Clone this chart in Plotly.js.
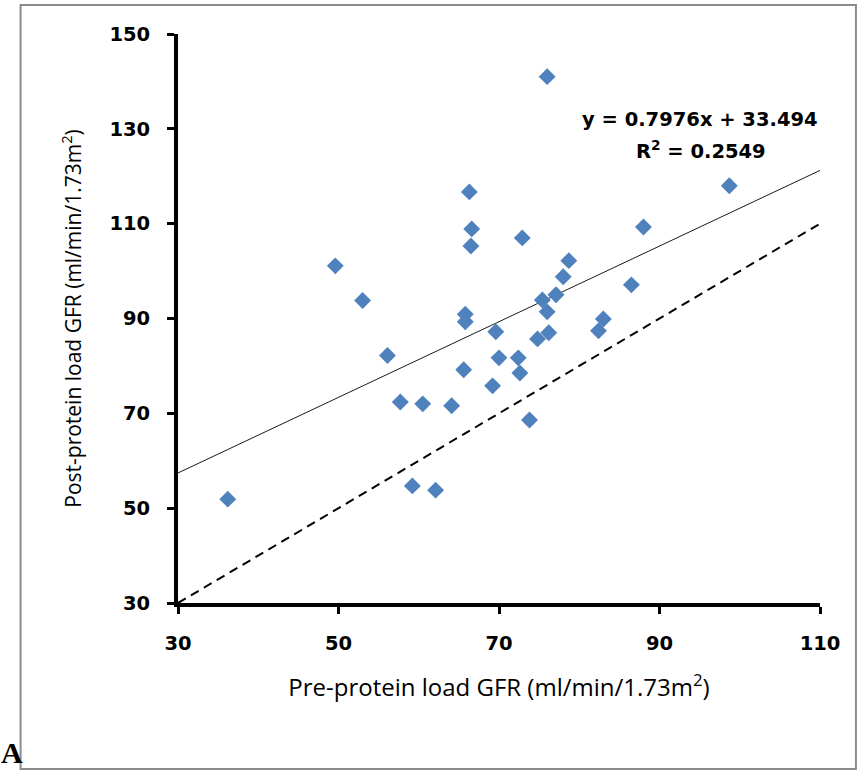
<!DOCTYPE html>
<html>
<head>
<meta charset="utf-8">
<script src="https://cdn.plot.ly/plotly-3.0.1.min.js"></script>
<style>
  html, body { margin: 0; padding: 0; background: #ffffff; }
  #chart { width: 859px; height: 771px; }
</style>
</head>
<body>
<div id="chart"></div>
<script>
// Pre-protein load GFR (x) and post-protein load GFR (y), ml/min/1.73m2
const preGFR = [36.2, 49.6, 53.0, 56.1, 57.7, 59.2, 60.5, 62.1, 64.1, 65.6,
                65.8, 65.8, 66.3, 66.6, 66.5, 69.2, 69.6, 70.0, 72.4, 72.6,
                72.9, 73.8, 74.8, 75.4, 76.0, 76.0, 76.2, 77.1, 78.0, 78.7,
                82.4, 83.0, 86.5, 88.0, 98.7];
const postGFR = [51.9, 101.1, 93.8, 82.2, 72.4, 54.7, 72.0, 53.8, 71.6, 79.2,
                 90.9, 89.3, 116.7, 108.9, 105.3, 75.8, 87.2, 81.7, 81.7, 78.5,
                 107.0, 68.6, 85.7, 93.9, 141.0, 91.4, 87.0, 95.0, 98.8, 102.2,
                 87.4, 89.9, 97.1, 109.3, 118.0];

// Linear trend reported on the chart
const trendSlope = 0.7976;
const trendIntercept = 33.494;
const trendR2 = 0.2549;

// Axis ranges and ticks
const xRange = [30, 110];
const yRange = [30, 150];
const xTicks = [30, 50, 70, 90, 110];
const yTicks = [30, 50, 70, 90, 110, 130, 150];

// Line of identity (y = x)
const identityX = [30, 110];
const identityY = [30, 110];

const trendX = xRange.slice();
const trendY = trendX.map(v => trendSlope * v + trendIntercept);

const traces = [
  {
    x: identityX, y: identityY, type: 'scatter', mode: 'lines',
    line: { color: '#000000', width: 2, dash: '9px,6px' },
    hoverinfo: 'skip', showlegend: false
  },
  {
    x: trendX, y: trendY, type: 'scatter', mode: 'lines',
    line: { color: '#1a1a1a', width: 1 },
    hoverinfo: 'skip', showlegend: false
  },
  {
    x: preGFR, y: postGFR, type: 'scatter', mode: 'markers',
    marker: { symbol: 'diamond', size: 13, color: '#4F81BD', line: { width: 0 } },
    showlegend: false, cliponaxis: false
  }
];

const tickFont = { family: 'DejaVu Sans, Verdana, sans-serif', size: 19.5, color: '#000000', weight: 'bold' };
const xTitleFont = { family: 'Open Sans, sans-serif', size: 24, color: '#000000' };
const yTitleFont = { family: 'Open Sans, sans-serif', size: 21, color: '#000000' };
const eqFont = { family: 'DejaVu Sans, Verdana, sans-serif', size: 19.5, color: '#000000', weight: 'bold' };

const layout = {
  width: 859, height: 771,
  margin: { l: 177.5, r: 39, t: 34, b: 168, pad: 0 },
  paper_bgcolor: '#ffffff', plot_bgcolor: '#ffffff',
  showlegend: false,
  xaxis: {
    range: xRange, tickvals: xTicks, ticktext: xTicks.map(String),
    showgrid: false, zeroline: false,
    showline: true, linecolor: '#000000', linewidth: 4, mirror: false,
    ticks: 'outside', ticklen: 7, tickwidth: 3, tickcolor: '#000000',
    tickfont: tickFont, ticklabelstandoff: 13,
    title: { text: 'Pre-protein load GFR (ml/min/1.73m<sup>2</sup>)', font: xTitleFont, standoff: 26 },
    fixedrange: true
  },
  yaxis: {
    range: yRange, tickvals: yTicks, ticktext: yTicks.map(String),
    showgrid: false, zeroline: false,
    showline: true, linecolor: '#000000', linewidth: 4, mirror: false,
    ticks: 'outside', ticklen: 7, tickwidth: 3, tickcolor: '#000000',
    tickfont: tickFont, ticklabelstandoff: 13,
    title: { text: 'Post-protein load GFR (ml/min/1.73m<sup>2</sup>)', font: yTitleFont, standoff: 23 },
    fixedrange: true
  },
  shapes: [
    {
      type: 'rect', xref: 'paper', yref: 'paper',
      x0: -0.2452, x1: 1.0560, y0: -0.2917, y1: 1.0510,
      line: { color: '#8c8c8c', width: 2 }, fillcolor: 'rgba(0,0,0,0)', layer: 'below'
    }
  ],
  annotations: [
    {
      xref: 'x', yref: 'y', x: 95.1, y: 131.9,
      text: 'y = ' + trendSlope + 'x + ' + trendIntercept,
      showarrow: false, xanchor: 'center', yanchor: 'middle', font: eqFont
    },
    {
      xref: 'x', yref: 'y', x: 95.2, y: 125.6,
      text: 'R<sup>2</sup> = ' + trendR2,
      showarrow: false, xanchor: 'center', yanchor: 'middle', font: eqFont
    },
    {
      xref: 'paper', yref: 'paper', x: -0.2592, y: -0.262,
      text: 'A', showarrow: false, xanchor: 'center', yanchor: 'middle',
      font: { family: 'Liberation Serif, serif', size: 30, color: '#000000', weight: 'bold' }
    }
  ]
};

Plotly.newPlot('chart', traces, layout, { displayModeBar: false, staticPlot: true });
</script>
</body>
</html>
